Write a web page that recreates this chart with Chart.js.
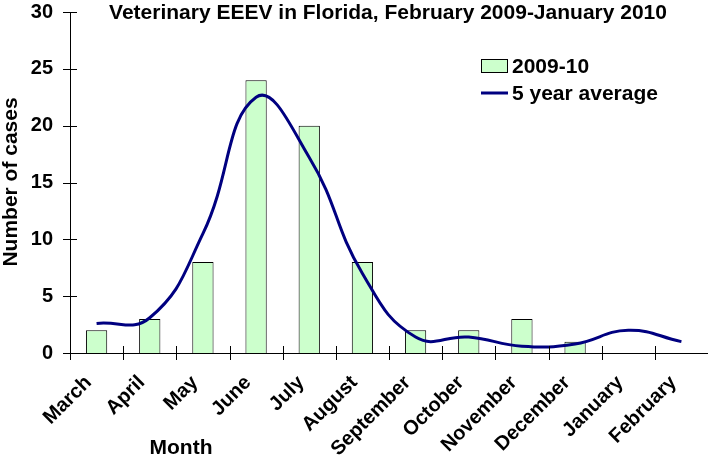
<!DOCTYPE html>
<html>
<head>
<meta charset="utf-8">
<script src="https://cdn.jsdelivr.net/npm/chart.js@4/dist/chart.umd.min.js"></script>
<style>
html,body{margin:0;padding:0;background:#fff;}
#wrap{width:708px;height:466px;position:relative;}
</style>
</head>
<body>
<div id="wrap"><canvas id="c" width="708" height="466"></canvas></div>
<script>
const months = ["March","April","May","June","July","August","September","October","November","December","January","February"];
const cases2009 = [2,3,8,24,20,8,2,2,3,1,0,0];
const fiveYearAvg = [2.6,3.1,10.5,22.5,17.2,7.0,1.4,1.4,0.6,0.8,2.0,1.0];
const yTicks = [0,5,10,15,20,25,30];
const titleText = "Veterinary EEEV in Florida, February 2009-January 2010";
const yTitle = "Number of cases";
const xTitle = "Month";

const FONT = "'Liberation Sans', Arial, sans-serif";

const decor = {
  id: 'decor',
  afterDraw(chart) {
    const ctx = chart.ctx;
    const x = chart.scales.x, y = chart.scales.y;
    const ca = chart.chartArea;
    ctx.save();
    ctx.strokeStyle = '#000';
    ctx.lineWidth = 1;
    yTicks.forEach(v => {
      const py = Math.round(y.getPixelForValue(v)) + 0.5;
      ctx.beginPath();
      ctx.moveTo(ca.left - 7, py);
      ctx.lineTo(v === 0 ? ca.left : ca.left + 7, py);
      ctx.stroke();
    });
    for (let i = 0; i < months.length; i++) {
      const px = Math.round(x.getPixelForValue(i - 0.5)) + 0.5;
      ctx.beginPath();
      ctx.moveTo(px, i === 0 ? ca.bottom : ca.bottom - 7);
      ctx.lineTo(px, ca.bottom + 7);
      ctx.stroke();
    }
    ctx.fillStyle = '#000';
    ctx.font = "bold 21px " + FONT;
    ctx.textAlign = 'center';
    ctx.textBaseline = 'middle';
    ctx.fillText(titleText, 388, 13);
    ctx.fillText(xTitle, 181, 448);
    ctx.save();
    ctx.translate(11, 182);
    ctx.rotate(-Math.PI / 2);
    ctx.fillText(yTitle, 0, 0);
    ctx.restore();
    // legend
    const barDs = chart.data.datasets.find(d => d.type === 'bar');
    const lineDs = chart.data.datasets.find(d => d.type === 'line');
    ctx.textAlign = 'left';
    ctx.fillStyle = barDs.backgroundColor;
    ctx.fillRect(481.5, 59.5, 26, 13);
    ctx.strokeStyle = '#000';
    ctx.lineWidth = 1;
    ctx.strokeRect(481.5, 59.5, 26, 13);
    ctx.fillStyle = '#000';
    ctx.fillText(barDs.label, 512, 67);
    ctx.strokeStyle = lineDs.borderColor;
    ctx.lineWidth = 3;
    ctx.beginPath();
    ctx.moveTo(481, 93);
    ctx.lineTo(508, 93);
    ctx.stroke();
    ctx.fillText(lineDs.label, 512, 94);
    ctx.restore();
  }
};

new Chart(document.getElementById('c'), {
  data: {
    labels: months,
    datasets: [
      {
        type: 'line',
        label: '5 year average',
        data: fiveYearAvg,
        borderColor: '#000080',
        borderWidth: 3,
        pointRadius: 0,
        tension: 0.45,
        fill: false,
        order: 0
      },
      {
        type: 'bar',
        label: '2009-10',
        data: cases2009,
        backgroundColor: '#CCFFCC',
        borderColor: '#000',
        borderWidth: 1,
        barPercentage: 0.4,
        categoryPercentage: 1.0,
        order: 1
      }
    ]
  },
  options: {
    responsive: false,
    animation: false,
    layout: { padding: { top: 12, right: 0, left: 0, bottom: 0 } },
    plugins: { legend: { display: false }, title: { display: false }, tooltip: { enabled: false } },
    scales: {
      x: {
        offset: true,
        grid: { display: false, drawTicks: false },
        border: { display: true, color: '#000', width: 1 },
        ticks: {
          color: '#000',
          font: { family: FONT, weight: 'bold', size: 20 },
          minRotation: 45, maxRotation: 45,
          padding: 18,
          labelOffset: -8,
          autoSkip: false
        },
        afterFit(s) { s.height = 113; s.paddingLeft = 0; s.paddingRight = 0; }
      },
      y: {
        min: 0, max: 30,
        afterBuildTicks(s) { s.ticks = yTicks.map(v => ({ value: v })); },
        grid: { display: false, drawTicks: false },
        border: { display: true, color: '#000', width: 1 },
        ticks: {
          color: '#000',
          font: { family: FONT, weight: 'bold', size: 20 },
          padding: 17
        },
        afterFit(s) { s.width = 70; s.paddingTop = 0; s.paddingBottom = 0; }
      }
    }
  },
  plugins: [decor]
});
</script>
</body>
</html>
